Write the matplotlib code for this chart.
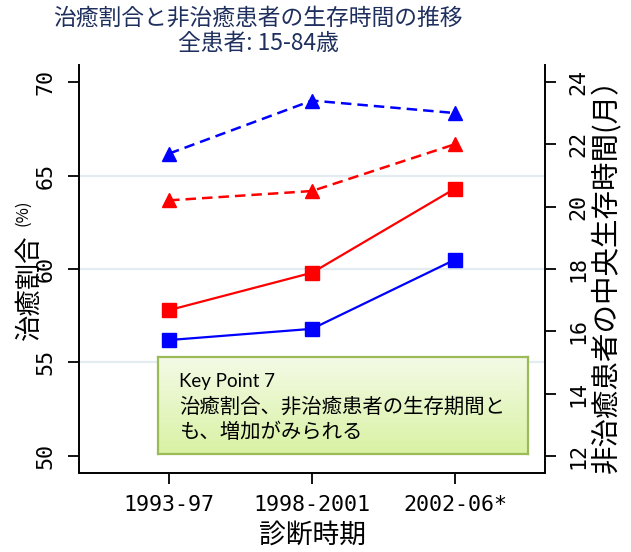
import numpy as np
import matplotlib
matplotlib.use("Agg")
import matplotlib.pyplot as plt
from matplotlib.colors import LinearSegmentedColormap

# ---- data ----
periods = ["1993-97", "1998-2001", "2002-06*"]
cure_red = [57.8, 59.8, 64.3]       # 治癒割合 (%) - red
cure_blue = [56.2, 56.8, 60.5]      # 治癒割合 (%) - blue
median_red = [20.2, 20.5, 22.0]     # 非治癒患者の中央生存時間 (月) - red
median_blue = [21.7, 23.4, 23.0]    # 非治癒患者の中央生存時間 (月) - blue
left_ticks = [50, 55, 60, 65, 70]
right_ticks = [12, 14, 16, 18, 20, 22, 24]
grid_vals = [55, 60, 65]

W, H = 631, 552
fig = plt.figure(figsize=(W / 100, H / 100), dpi=100)
JP = ["Noto Sans CJK JP", "DejaVu Sans"]
MONO = ["DejaVu Sans Mono"]

def fx(px):
    return px / W

def fy(py):
    return 1 - py / H

ax = fig.add_axes([fx(79), fy(473), fx(545) - fx(79), fy(65) - fy(473)])
x = np.arange(len(periods))
ax.set_xlim(-0.63, 2.63)
ax.set_ylim(49.09, 70.91)

for g in grid_vals:
    ax.axhline(g, color="#E3ECF0", lw=1.6, zorder=0)

ax.plot(x, cure_red, color="#FF0000", lw=1.6, marker="s", ms=10, zorder=3)
ax.plot(x, cure_blue, color="#0000FF", lw=1.6, marker="s", ms=10, zorder=3)

ax2 = ax.twinx()
ax2.set_ylim(11.46, 24.54)
ax2.plot(x, median_red, color="#FF0000", lw=1.8, ls=(0, (4.2, 2.4)), marker="^", ms=10.5, zorder=3)
ax2.plot(x, median_blue, color="#0000FF", lw=1.8, ls=(0, (4.2, 2.4)), marker="^", ms=10.5, zorder=3)

for s in ["top", "right"]:
    ax.spines[s].set_visible(False)
for s in ["top", "left", "bottom"]:
    ax2.spines[s].set_visible(False)
for sp in [ax.spines["left"], ax.spines["bottom"], ax2.spines["right"]]:
    sp.set_linewidth(1.4)

ax.set_xticks(x)
ax.set_xticklabels(periods, family=MONO, fontsize=15.6)
ax.tick_params(axis="x", direction="out", length=8, width=1.3, pad=8)

ax.set_yticks(left_ticks)
ax.set_yticklabels([str(v) for v in left_ticks], family=MONO, fontsize=15.6,
                   rotation=90, va="center")
ax.tick_params(axis="y", direction="out", length=8, width=1.3, pad=9)

ax2.set_yticks(right_ticks)
ax2.set_yticklabels([str(v) for v in right_ticks], family=MONO, fontsize=15.6,
                    rotation=90, va="center")
ax2.tick_params(axis="y", direction="out", length=8, width=1.3, pad=9)

# axis labels
fig.text(fx(29), fy(287), "治癒割合", family=JP, fontsize=19, rotation=90,
         ha="center", va="center")
fig.text(fx(23), fy(213), "(%)", family=JP, fontsize=12, rotation=90,
         ha="center", va="center")
fig.text(fx(607), fy(269), "非治癒患者の中央生存時間(月）", family=JP, fontsize=20.5,
         rotation=90, ha="center", va="center")
fig.text(fx(312), fy(535), "診断時期", family=JP, fontsize=19.3, ha="center", va="center")

# title
navy = "#1F2F5E"
fig.text(fx(258), fy(18), "治癒割合と非治癒患者の生存時間の推移", family=JP,
         fontsize=16.4, color=navy, ha="center", va="center")
fig.text(fx(258), fy(44), "全患者: 15-84歳", family=JP,
         fontsize=16.4, color=navy, ha="center", va="center")

# key point box
bx = fig.add_axes([fx(158), fy(454), fx(528) - fx(158), fy(357) - fy(454)])
cmap = LinearSegmentedColormap.from_list("kp", ["#F4FAE6", "#D9F2A4"])
grad = np.linspace(0, 1, 100).reshape(-1, 1)
bx.imshow(grad, aspect="auto", cmap=cmap, extent=[0, 1, 0, 1], origin="upper")
bx.set_xticks([])
bx.set_yticks([])
for sp in bx.spines.values():
    sp.set_color("#9BBB59")
    sp.set_linewidth(1.6)

fig.text(fx(179), fy(381), "Key Point 7", family=["Lato", "Noto Sans CJK JP"],
         fontsize=13.5, ha="left", va="center")
fig.text(fx(179), fy(407), "治癒割合、非治癒患者の生存期間と", family=JP,
         fontsize=14.7, ha="left", va="center")
fig.text(fx(179), fy(432), "も、増加がみられる", family=JP,
         fontsize=14.7, ha="left", va="center")

fig.savefig("out.png", dpi=100)
